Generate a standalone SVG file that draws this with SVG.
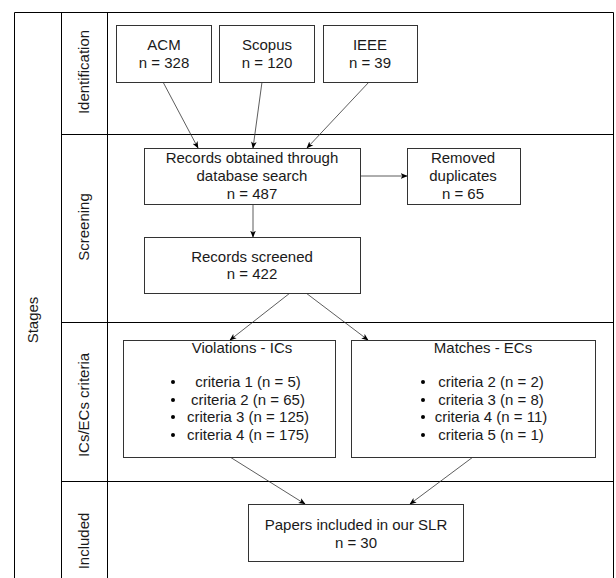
<svg xmlns="http://www.w3.org/2000/svg" width="616" height="578" viewBox="0 0 616 578">
<style>
text{font-family:"Liberation Sans",Arial,sans-serif;font-size:15px;fill:#1a1a1a;text-anchor:middle}
.frame{fill:none;stroke:#000;stroke-width:1}
.box{fill:#fff;stroke:#333;stroke-width:1}
.edge{stroke:#333;stroke-width:0.8;fill:none;marker-end:url(#ah)}
.dot{fill:#000}
</style>
<defs>
<marker id="ah" viewBox="0 0 10 10" refX="9" refY="5" markerWidth="7" markerHeight="7" orient="auto" markerUnits="userSpaceOnUse">
<path d="M0,1 L10,5 L0,9 L2.5,5 Z" fill="#000"/>
</marker>
</defs>
<rect width="616" height="578" fill="#fff"/>
<g id="swimlane">
<path class="frame" d="M14.5,600 V12.5 H613.5 V600 M61.5,12.5 V600 M107.5,12.5 V600 M61.5,134.5 H613.5 M61.5,322.5 H613.5 M61.5,481.5 H613.5"/>
<text transform="translate(38,320) rotate(-90)">Stages</text>
<text transform="translate(89,72) rotate(-90)">Identification</text>
<text transform="translate(89,227) rotate(-90)">Screening</text>
<text transform="translate(89,405) rotate(-90)">ICs/ECs criteria</text>
<text transform="translate(89,541) rotate(-90)">Included</text>
</g>
<g id="connectors">
<line class="edge" x1="163" y1="82" x2="198" y2="148"/>
<line class="edge" x1="262" y1="82" x2="253" y2="148"/>
<line class="edge" x1="369" y1="82" x2="307" y2="148"/>
<line class="edge" x1="360" y1="176" x2="407" y2="176"/>
<line class="edge" x1="253" y1="204" x2="253" y2="237"/>
<line class="edge" x1="290" y1="293" x2="230" y2="340"/>
<line class="edge" x1="306" y1="293" x2="368" y2="340"/>
<line class="edge" x1="230" y1="457" x2="305" y2="504"/>
<line class="edge" x1="473" y1="457" x2="410" y2="504"/>
</g>
<g id="acm">
<rect class="box" x="116.5" y="25.5" width="95" height="57"/>
<text x="164" y="50">ACM</text>
<text x="164" y="68">n = 328</text>
</g>
<g id="scopus">
<rect class="box" x="219.5" y="25.5" width="95" height="57"/>
<text x="267" y="50">Scopus</text>
<text x="267" y="68">n = 120</text>
</g>
<g id="ieee">
<rect class="box" x="323.5" y="25.5" width="94" height="57"/>
<text x="370" y="50">IEEE</text>
<text x="370" y="68">n = 39</text>
</g>
<g id="records-obtained">
<rect class="box" x="144.5" y="148.5" width="216" height="56"/>
<text x="252" y="163">Records obtained through</text>
<text x="252" y="181">database search</text>
<text x="252" y="199">n = 487</text>
</g>
<g id="removed-duplicates">
<rect class="box" x="407.5" y="148.5" width="113" height="56"/>
<text x="463" y="163">Removed</text>
<text x="463" y="181">duplicates</text>
<text x="463" y="199">n = 65</text>
</g>
<g id="records-screened">
<rect class="box" x="144.5" y="237.5" width="216" height="56"/>
<text x="252" y="262">Records screened</text>
<text x="252" y="279">n = 422</text>
</g>
<g id="violations">
<rect class="box" x="123.5" y="340.5" width="212" height="117"/>
<text x="242" y="353">Violations - ICs</text>
<circle class="dot" cx="173" cy="382" r="2"/>
<circle class="dot" cx="173" cy="400" r="2"/>
<circle class="dot" cx="173" cy="417" r="2"/>
<circle class="dot" cx="173" cy="435" r="2"/>
<text x="248" y="387">criteria 1 (n = 5)</text>
<text x="248" y="405">criteria 2 (n = 65)</text>
<text x="248" y="422">criteria 3 (n = 125)</text>
<text x="248" y="440">criteria 4 (n = 175)</text>
</g>
<g id="matches">
<rect class="box" x="351.5" y="340.5" width="244" height="117"/>
<text x="483" y="353">Matches - ECs</text>
<circle class="dot" cx="423" cy="382" r="2"/>
<circle class="dot" cx="423" cy="400" r="2"/>
<circle class="dot" cx="423" cy="417" r="2"/>
<circle class="dot" cx="423" cy="435" r="2"/>
<text x="491" y="387">criteria 2 (n = 2)</text>
<text x="491" y="405">criteria 3 (n = 8)</text>
<text x="491" y="422">criteria 4 (n = 11)</text>
<text x="491" y="440">criteria 5 (n = 1)</text>
</g>
<g id="papers">
<rect class="box" x="248.5" y="504.5" width="215" height="57"/>
<text x="356" y="530">Papers included in our SLR</text>
<text x="356" y="548">n = 30</text>
</g>
</svg>
